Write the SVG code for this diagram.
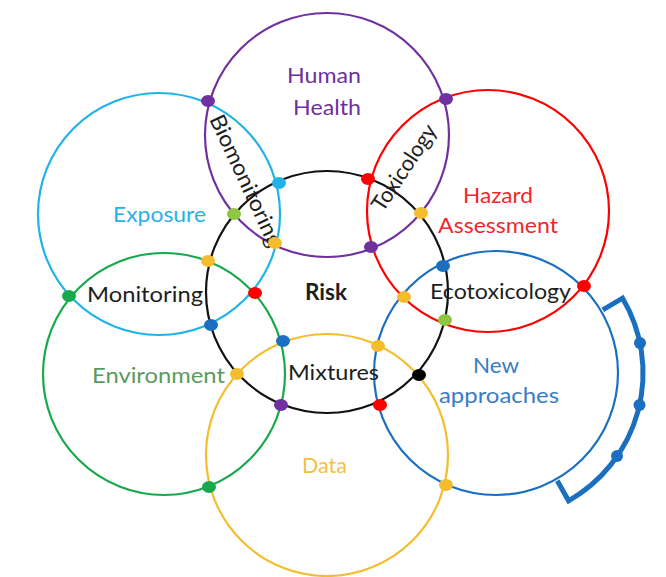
<svg xmlns="http://www.w3.org/2000/svg" width="666" height="577" viewBox="0 0 666 577">
<style>
.ring{fill:none;stroke-width:2.2}
.lbl{font-family:Lato,"Liberation Sans",sans-serif;font-size:21px}
.blk{font-family:Lato,"Liberation Sans",sans-serif;font-size:22px;fill:#1e1e1e}
.dot{stroke:none}
</style>
<rect width="666" height="577" fill="#ffffff"/>

<g id="human-health">
<circle class="ring" cx="327" cy="135" r="122" stroke="#7030a0"/>
<text class="lbl" fill="#7030a0" x="287" y="83" textLength="74" lengthAdjust="spacingAndGlyphs">Human</text>
<text class="lbl" fill="#7030a0" x="293" y="115" textLength="68" lengthAdjust="spacingAndGlyphs">Health</text>
</g>

<g id="exposure">
<circle class="ring" cx="159" cy="214" r="121" stroke="#1fb3e8"/>
<text class="lbl" fill="#29b0e8" x="113" y="222" textLength="93" lengthAdjust="spacingAndGlyphs">Exposure</text>
</g>

<g id="hazard-assessment">
<circle class="ring" cx="488" cy="211" r="121" stroke="#ff0000"/>
<text class="lbl" fill="#f0282d" x="463" y="203" textLength="70" lengthAdjust="spacingAndGlyphs">Hazard</text>
<text class="lbl" fill="#f0282d" x="438" y="233" textLength="120" lengthAdjust="spacingAndGlyphs">Assessment</text>
</g>

<g id="environment">
<circle class="ring" cx="164" cy="374" r="121" stroke="#17a94c"/>
<text class="lbl" fill="#5b9a5e" x="92" y="383" textLength="133" lengthAdjust="spacingAndGlyphs">Environment</text>
</g>

<g id="data">
<circle class="ring" cx="327" cy="455" r="121" stroke="#f5bd2e"/>
<text class="lbl" fill="#f3c03f" x="302" y="473" textLength="45" lengthAdjust="spacingAndGlyphs">Data</text>
</g>

<g id="new-approaches">
<circle class="ring" cx="496" cy="373" r="122" stroke="#1a6fc0"/>
<text class="lbl" fill="#3a7cc4" x="473" y="373" textLength="46" lengthAdjust="spacingAndGlyphs">New</text>
<text class="lbl" fill="#3a7cc4" x="439" y="403" textLength="120" lengthAdjust="spacingAndGlyphs">approaches</text>
</g>

<g id="risk">
<circle class="ring" cx="327" cy="292" r="121" stroke="#111111"/>
<text class="blk" x="305" y="300" font-weight="bold" textLength="42" lengthAdjust="spacingAndGlyphs">Risk</text>
</g>

<g id="biomonitoring">
<text class="blk" transform="translate(209,119) rotate(65)" x="0" y="0" textLength="143" lengthAdjust="spacingAndGlyphs">Biomonitoring</text>
</g>
<g id="toxicology">
<text class="blk" transform="translate(383,213) rotate(-56.5)" x="0" y="0" textLength="99" lengthAdjust="spacingAndGlyphs">Toxicology</text>
</g>
<g id="monitoring">
<text class="blk" x="87" y="302" textLength="116" lengthAdjust="spacingAndGlyphs">Monitoring</text>
</g>
<g id="ecotoxicology">
<text class="blk" x="430" y="299" textLength="141" lengthAdjust="spacingAndGlyphs">Ecotoxicology</text>
</g>
<g id="mixtures">
<text class="blk" x="288" y="380" textLength="91" lengthAdjust="spacingAndGlyphs">Mixtures</text>
</g>

<g id="connectors">
<path d="M602.8,309.9 L622.6,298.2 A147,147 0 0 1 568.6,500.8 L557.3,480.8" fill="none" stroke="#1a6fc0" stroke-width="5" stroke-linejoin="miter"/>
<circle class="dot" cx="640" cy="343" r="6" fill="#1a6fc0"/>
<circle class="dot" cx="639.5" cy="405" r="6" fill="#1a6fc0"/>
<circle class="dot" cx="617" cy="456" r="6" fill="#1a6fc0"/>
</g>

<g id="intersections">
<ellipse class="dot" cx="208" cy="101" rx="7" ry="6" fill="#7030a0"/>
<ellipse class="dot" cx="446" cy="99" rx="7" ry="6" fill="#7030a0"/>
<ellipse class="dot" cx="279" cy="183" rx="7" ry="6" fill="#1fb3e8"/>
<ellipse class="dot" cx="368" cy="179" rx="7" ry="6" fill="#ff0000"/>
<ellipse class="dot" cx="234" cy="214" rx="7" ry="6" fill="#8dc640" stroke="#6a9a30" stroke-width="0.8"/>
<ellipse class="dot" cx="275" cy="243" rx="7" ry="6" fill="#f5bd2e"/>
<ellipse class="dot" cx="371" cy="247" rx="7" ry="6" fill="#7030a0"/>
<ellipse class="dot" cx="421" cy="213" rx="7" ry="6" fill="#f5bd2e"/>
<ellipse class="dot" cx="208" cy="261" rx="7" ry="6" fill="#f5bd2e"/>
<ellipse class="dot" cx="255" cy="293" rx="7" ry="6" fill="#ff0000"/>
<ellipse class="dot" cx="211" cy="325" rx="7" ry="6" fill="#1a6fc0"/>
<ellipse class="dot" cx="69" cy="296" rx="7" ry="6" fill="#17a94c"/>
<ellipse class="dot" cx="283" cy="341" rx="7" ry="6" fill="#1a6fc0"/>
<ellipse class="dot" cx="237" cy="374" rx="7" ry="6" fill="#f5bd2e"/>
<ellipse class="dot" cx="281" cy="405" rx="7" ry="6" fill="#7030a0"/>
<ellipse class="dot" cx="209" cy="487" rx="7" ry="6" fill="#17a94c"/>
<ellipse class="dot" cx="378" cy="346" rx="7" ry="6" fill="#f5bd2e"/>
<ellipse class="dot" cx="419" cy="375" rx="7" ry="6" fill="#000000"/>
<ellipse class="dot" cx="380" cy="405" rx="7" ry="6" fill="#ff0000"/>
<ellipse class="dot" cx="446" cy="485" rx="7" ry="6" fill="#f5bd2e"/>
<ellipse class="dot" cx="404" cy="297" rx="7" ry="6" fill="#f5bd2e"/>
<ellipse class="dot" cx="443" cy="266" rx="7" ry="6" fill="#1a6fc0"/>
<ellipse class="dot" cx="445" cy="320" rx="7" ry="6" fill="#8dc640" stroke="#6a9a30" stroke-width="0.8"/>
<ellipse class="dot" cx="584" cy="286" rx="7" ry="6" fill="#ff0000"/>
</g>
</svg>
